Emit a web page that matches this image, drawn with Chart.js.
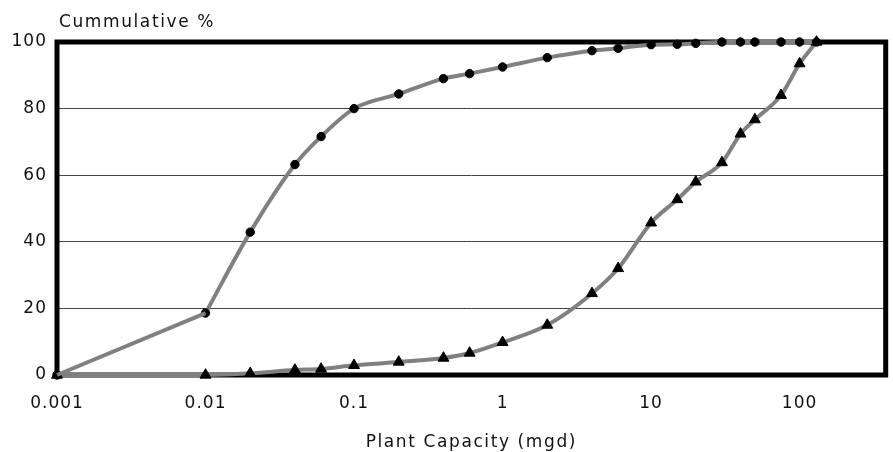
<!DOCTYPE html>
<html>
<head>
<meta charset="utf-8">
<script src="https://cdn.jsdelivr.net/npm/chart.js@4"></script>
<style>
  body { margin: 0; background: #fff; }
</style>
</head>
<body>
<canvas id="capChart" width="893" height="452"></canvas>
<script>
// data block
const capacity = [0.001, 0.01, 0.02, 0.04, 0.06, 0.1, 0.2, 0.4, 0.6, 1, 2, 4, 6, 10, 15, 20, 30, 40, 50, 75, 100, 130];
const cumPlants = [0, 18.6, 42.9, 63.2, 71.6, 80, 84.4, 89, 90.5, 92.5, 95.3, 97.4, 98.1, 99.2, 99.3, 99.6, 100, 100, 100, 100, 100, 100];
const cumCapacity = [0, 0, 0.5, 1.5, 1.8, 2.9, 3.9, 5.1, 6.6, 9.8, 15, 24.5, 32, 45.7, 52.7, 58, 63.8, 72.4, 76.7, 84, 93.5, 100];
const xTicks = [0.001, 0.01, 0.1, 1, 10, 100];
const yTitle = 'Cummulative %';
const xTitle = 'Plant Capacity (mgd)';

const toPoints = (ys, from, to) => capacity.slice(from, to).map((x, i) => ({ x: x, y: ys[from + i] }));

// letter spacing + frame + titles
const spacing = {
    id: 'spacing',
    beforeLayout(chart) { chart.ctx.letterSpacing = '1px'; },
    beforeDraw(chart) { chart.ctx.letterSpacing = '1px'; }
};

const frame = {
    id: 'frame',
    beforeDatasetsDraw(chart) {
        const { ctx, chartArea: { left, top, right, bottom } } = chart;
        ctx.save();
        ctx.strokeStyle = '#000';
        ctx.lineWidth = 5;
        ctx.strokeRect(left, top, right - left, bottom - top);
        ctx.restore();
    },
    afterDraw(chart) {
        const { ctx, chartArea: { left, right } } = chart;
        ctx.save();
        ctx.font = '17px "DejaVu Sans"';
        ctx.fillStyle = '#111';
        ctx.letterSpacing = '1.6px';
        ctx.textBaseline = 'alphabetic';
        ctx.textAlign = 'left';
        ctx.fillText(yTitle, left + 2, 26.5);
        ctx.textAlign = 'center';
        ctx.fillText(xTitle, (left + right) / 2, 446.5);
        ctx.restore();
    }
};

Chart.defaults.font.family = '"DejaVu Sans"';
Chart.defaults.font.size = 17;
Chart.defaults.color = '#111';

const lineStyle = {
    borderColor: '#808080',
    borderWidth: 4,
    pointBackgroundColor: '#000',
    pointBorderColor: '#000',
    pointBorderWidth: 1,
    cubicInterpolationMode: 'monotone',
    clip: false
};

const capChart = new Chart(document.getElementById('capChart'), {
    type: 'line',
    data: {
        datasets: [
            // first stretch of the plants curve is a straight run
            Object.assign({}, lineStyle, {
                label: 'Plants start',
                data: toPoints(cumPlants, 0, 2),
                cubicInterpolationMode: 'default',
                tension: 0,
                pointRadius: 0
            }),
            Object.assign({}, lineStyle, {
                label: 'Plants',
                data: toPoints(cumPlants, 1),
                pointStyle: 'circle',
                pointRadius: 4.2
            }),
            Object.assign({}, lineStyle, {
                label: 'Plants origin',
                data: toPoints(cumPlants, 0, 1),
                showLine: false,
                pointStyle: 'circle',
                pointRadius: 4.2
            }),
            Object.assign({}, lineStyle, {
                label: 'Capacity',
                data: toPoints(cumCapacity, 0),
                pointStyle: 'triangle',
                pointRadius: 6.3
            })
        ]
    },
    options: {
        responsive: false,
        animation: false,
        layout: {
            padding: { top: 42, right: 6, left: 0, bottom: 0 }
        },
        scales: {
            x: {
                type: 'logarithmic',
                min: 0.001,
                max: 380,
                afterBuildTicks(scale) {
                    scale.ticks = xTicks.map(v => ({ value: v }));
                },
                afterFit(scale) { scale.height = 77; },
                ticks: {
                    padding: 18,
                    maxRotation: 0,
                    callback: (v) => String(v)
                },
                grid: { display: false, drawTicks: false },
                border: { display: false }
            },
            y: {
                min: 0,
                max: 100,
                afterFit(scale) { scale.width = 57; },
                ticks: { stepSize: 20, padding: 10 },
                grid: { color: '#444', lineWidth: 1, drawTicks: false },
                border: { display: false }
            }
        },
        plugins: {
            legend: { display: false },
            tooltip: { enabled: false }
        }
    },
    plugins: [spacing, frame]
});
</script>
</body>
</html>
